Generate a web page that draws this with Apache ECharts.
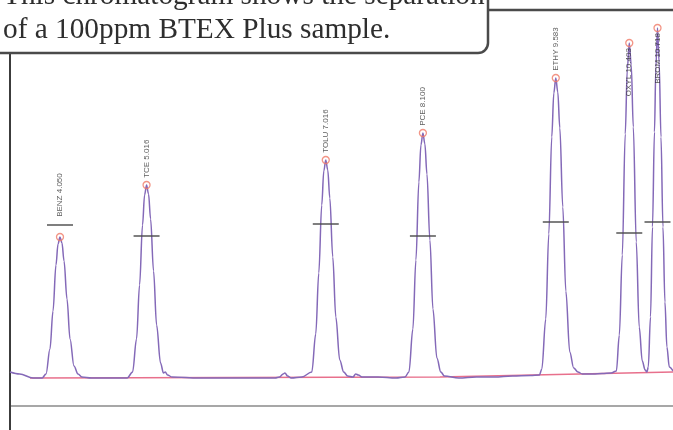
<!DOCTYPE html>
<html>
<head>
<meta charset="utf-8">
<script src="https://cdn.jsdelivr.net/npm/echarts@6/dist/echarts.min.js"></script>
<style>
  html, body { margin: 0; padding: 0; background: #fff; }
  #main { width: 673px; height: 430px; }
</style>
</head>
<body>
<div id="main"></div>
<script>
// retention time (min) and detector signal
var traceRt = [
  3.492, 3.60, 3.749, 3.85,
  3.894, 3.938, 3.972, 4.005, 4.028, 4.050, 4.072, 4.095, 4.128, 4.162, 4.206, 4.251, 4.295,
  4.40, 4.60, 4.80,
  4.860, 4.904, 4.938, 4.971, 4.994, 5.016, 5.038, 5.061, 5.094, 5.128, 5.172, 5.205, 5.225, 5.250, 5.30,
  5.60, 6.00, 6.30, 6.45, 6.50, 6.54, 6.56, 6.59, 6.63, 6.75,
  6.860, 6.904, 6.938, 6.971, 6.994, 7.016, 7.038, 7.061, 7.094, 7.128, 7.172, 7.216, 7.26,
  7.32, 7.35, 7.38, 7.42, 7.60, 7.80, 7.90,
  7.944, 7.988, 8.022, 8.055, 8.078, 8.100, 8.122, 8.145, 8.178, 8.212, 8.256, 8.300, 8.34,
  8.50, 8.70, 8.90, 9.10, 9.30, 9.40,
  9.427, 9.471, 9.505, 9.538, 9.561, 9.583, 9.605, 9.628, 9.661, 9.695, 9.739, 9.783, 9.83, 9.88,
  10.00, 10.10, 10.20,
  10.259, 10.292, 10.325, 10.358, 10.381, 10.403, 10.425, 10.448, 10.481, 10.514, 10.548, 10.580, 10.600,
  10.615, 10.640, 10.662, 10.684, 10.700, 10.718, 10.736, 10.757, 10.779, 10.801, 10.823, 10.850, 10.891
];
var traceSignal = [
  5, 3, -1, -1,
  3, 28, 66, 112, 133, 140, 134, 116, 78, 38, 11, 3, 0,
  -1, -1, -1,
  5, 38, 92, 152, 182, 192, 183, 158, 106, 52, 14, 4, 5, 2, 0,
  -1, -1, -1, -1, 0, 3, 4, 1, -1, 0,
  5, 43, 104, 172, 206, 217, 207, 179, 120, 60, 17, 5, 1,
  0, 3, 2, 0, 0, -1, 0,
  5, 48, 117, 195, 232, 244, 233, 203, 137, 68, 19, 5, 1,
  -1, 0, 0, 1, 1.5, 2,
  8, 58, 143, 240, 284, 299, 285, 249, 170, 86, 25, 9, 5, 3,
  3, 3.5, 4,
  6, 42, 122, 243, 308, 334, 312, 250, 135, 50, 16, 7, 5,
  10, 60, 150, 245, 310, 349, 315, 240, 150, 75, 30, 10, 6
];

// integration baseline
var baseRt = [3.715, 8.29, 10.891];
var baseSignal = [-1, 0, 5];

// identified peaks
var peakNames = ['BENZ', 'TCE', 'TOLU', 'PCE', 'ETHY', 'OXYL', 'BROM'];
var peakRt = [4.050, 5.016, 7.016, 8.100, 9.583, 10.403, 10.718];
var peakHeight = [140, 192, 217, 244, 299, 334, 349];
var markHeight = [152, 141, 153, 141, 155, 144, 155];

var chart = echarts.init(document.getElementById('main'), null, { renderer: 'canvas' });

function zip(a, b) {
  var out = [];
  for (var i = 0; i < a.length; i++) out.push([a[i], b[i]]);
  return out;
}

var apexData = peakNames.map(function (n, i) {
  var below = i >= 5; // no room above the last two peaks, label runs down the peak
  return {
    value: [peakRt[i], peakHeight[i]],
    name: n + ' ' + peakRt[i].toFixed(3),
    label: below
      ? { position: 'bottom', align: 'right', distance: 1 }
      : { position: 'top', align: 'left', distance: i === 0 ? 16 : 3 }
  };
});

var option = {
  animation: false,
  backgroundColor: '#fff',
  grid: { left: 10, right: 0, top: 10, bottom: 24 },
  xAxis: {
    type: 'value', min: 3.492, max: 10.891,
    axisLine: { show: true, onZero: false, lineStyle: { color: '#8a8a8a', width: 1.5 } },
    axisTick: { show: false }, axisLabel: { show: false }, splitLine: { show: false }
  },
  yAxis: {
    type: 'value', min: -29, max: 367,
    axisLine: { show: true, onZero: false, lineStyle: { color: '#3c3c3c', width: 2 } },
    axisTick: { show: false }, axisLabel: { show: false }, splitLine: { show: false }
  },
  series: [
    {
      type: 'line', data: zip(baseRt, baseSignal), symbol: 'none', z: 1,
      lineStyle: { color: '#e8708c', width: 1.3 }
    },
    {
      type: 'line', data: zip(traceRt, traceSignal), symbol: 'none', z: 2,
      smooth: 0.35, smoothMonotone: 'x',
      lineStyle: { color: '#8469b8', width: 1.5 }
    },
    {
      type: 'scatter', data: zip(peakRt, markHeight), symbol: 'rect', symbolSize: [26, 1.8], z: 3,
      itemStyle: { color: '#4d4d4d' }
    },
    {
      type: 'scatter', data: apexData, symbol: 'circle', symbolSize: 7, z: 4,
      itemStyle: { color: 'rgba(255,255,255,0)', borderColor: '#f07a68', borderWidth: 1.3 },
      label: {
        show: true, rotate: 90, verticalAlign: 'middle',
        formatter: '{b}', fontSize: 8, fontFamily: 'Liberation Sans', color: '#333'
      }
    }
  ],
  graphic: [
    { type: 'line', z: 50, shape: { x1: 486, y1: 10, x2: 673, y2: 10 }, style: { stroke: '#4a4a4a', lineWidth: 2.5 } },
    { type: 'line', z: 50, shape: { x1: 10, y1: 400, x2: 10, y2: 430 }, style: { stroke: '#3c3c3c', lineWidth: 2 } },
    {
      type: 'rect', z: 60,
      shape: { x: -6, y: -30, width: 494, height: 83, r: [0, 0, 10, 0] },
      style: { fill: '#fff', stroke: '#4a4a4a', lineWidth: 2.5 }
    },
    {
      type: 'text', z: 61, x: 3, y: -4,
      style: { text: 'This chromatogram shows the separation', font: '29.3px "Liberation Serif"', fill: '#2e2e2e', verticalAlign: 'middle' }
    },
    {
      type: 'text', z: 61, x: 3, y: 30,
      style: { text: 'of a 100ppm BTEX Plus sample.', font: '29.3px "Liberation Serif"', fill: '#2e2e2e', verticalAlign: 'middle' }
    }
  ]
};

chart.setOption(option);
</script>
</body>
</html>
